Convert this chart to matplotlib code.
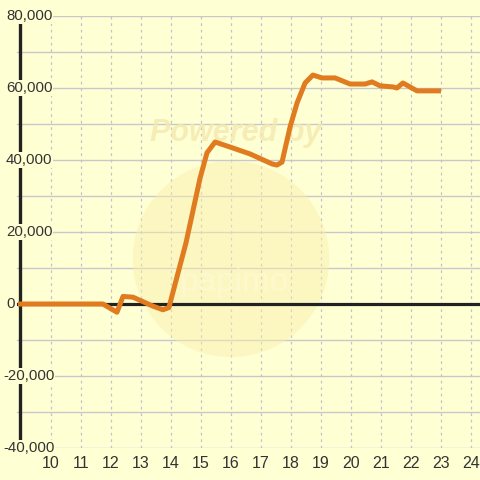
import matplotlib
matplotlib.use("Agg")
import matplotlib.pyplot as plt
import matplotlib.patches as mpatches
import matplotlib.transforms as mtransforms

# 시간(시) / 값
hours = [8.9, 11.73, 12.2, 12.4, 12.73, 13.03, 13.37, 13.73, 13.93,
         14.5, 14.97, 15.2, 15.47, 15.97, 16.63, 16.87, 17.37, 17.53, 17.7,
         17.97, 18.2, 18.47, 18.73, 19.03, 19.47, 19.97, 20.47, 20.7, 20.97,
         21.4, 21.53, 21.73, 22.2, 23.0]
values = [0, 0, -2300, 2100, 1900, 800, -500, -1600, -1000,
          17000, 35000, 42000, 45000, 43600, 41700, 40800, 38900, 38600, 39400,
          49200, 55800, 61400, 63600, 62800, 62800, 61100, 61100, 61700, 60600,
          60300, 60000, 61400, 59200, 59200]

x_ticks = list(range(10, 25))
y_ticks = [80000, 60000, 40000, 20000, 0, -20000, -40000]

BG = "#ffffd4"
GRID = "#c8c8cc"
TEXT = "#333333"

plt.rcParams["font.family"] = ["Liberation Sans", "DejaVu Sans"]

fig = plt.figure(figsize=(4.8, 4.8), dpi=100, facecolor=BG)
ax = fig.add_axes([17 / 480, 32 / 480, 463 / 480, 432 / 480], facecolor=BG)

ax.set_xlim(8.867, 24.3)
ax.set_ylim(-40000, 80000)
for s in ax.spines.values():
    s.set_visible(False)

# 그리드
for yv in range(-40000, 80001, 10000):
    ax.axhline(yv, color=GRID, linewidth=1, zorder=1)
for xv in x_ticks:
    ax.axvline(xv, color="#c4c4c8", linewidth=0.9, linestyle=(0, (2.2, 3)), zorder=1)

# 워터마크
ax.add_patch(mpatches.Ellipse((16.0, 12500), 6.55, 54500,
                              facecolor="#f9eeaa", alpha=0.45, edgecolor="none", zorder=1))
ax.text(16.15, 47500, "Powered by", ha="center", va="center", fontsize=22,
        fontweight="bold", style="italic", color="#f3e9ae", alpha=0.8, zorder=1)
ax.text(16.1, 6000, "papimo", ha="center", va="center", fontsize=24,
        color="#fffbe0", alpha=0.45, zorder=1)

# 축선
ax.axhline(0, color="#222222", linewidth=2.3, zorder=2)
ax.axvline(8.983, color="#222222", linewidth=2.4, zorder=2)

# 데이터 라인
ax.plot(hours, values, color="#e07b20", linewidth=3.6, solid_joinstyle="round",
        solid_capstyle="butt", zorder=4)

# Y 라벨
ytrans = mtransforms.blended_transform_factory(fig.transFigure, ax.transData)
for yv in y_ticks:
    lbl = f"{yv:,}"
    x0 = 3 if yv < 0 else 6
    ax.text(x0 / 480, yv, lbl, ha="left", va="center", fontsize=10.8, color=TEXT,
            transform=ytrans,
            bbox=dict(boxstyle="square,pad=0.05", facecolor=BG, edgecolor="none"),
            zorder=3, clip_on=False)

# X 라벨
ax.set_xticks(x_ticks)
ax.set_xticklabels([str(x) for x in x_ticks], fontsize=11.5, color=TEXT, zorder=5)
ax.set_yticks([])
ax.tick_params(axis="x", length=0, pad=6)
for t in ax.get_xticklabels():
    t.set_zorder(5)

fig.savefig("out.png", dpi=100, facecolor=BG)
